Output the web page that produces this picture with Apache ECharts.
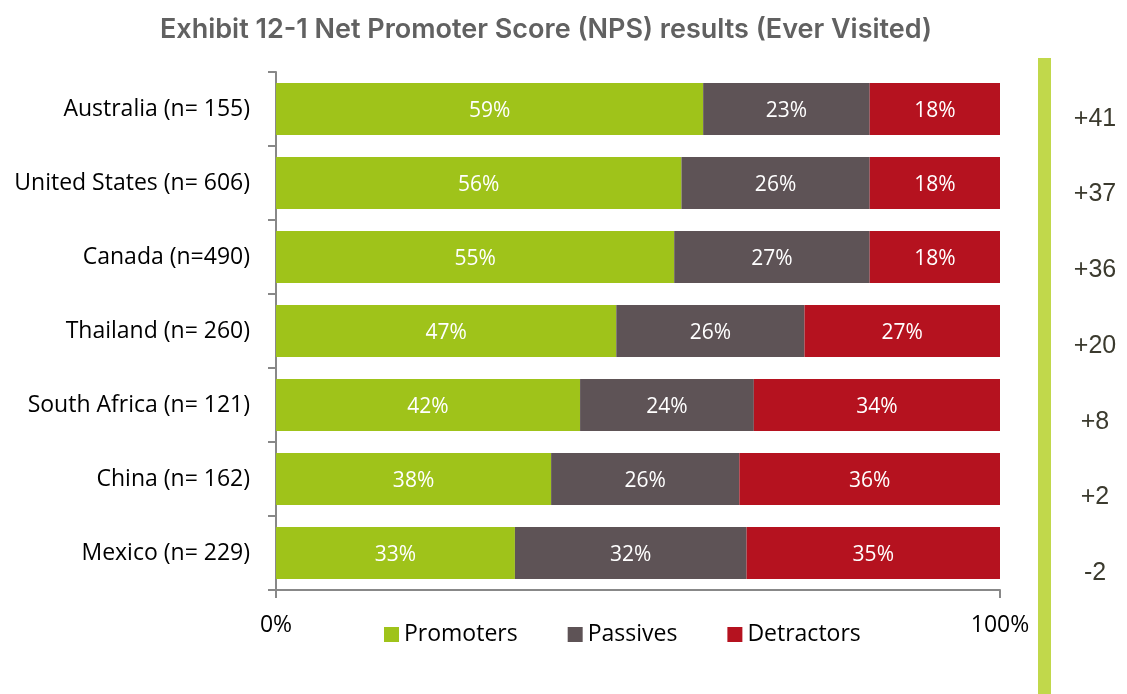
<!DOCTYPE html>
<html>
<head>
<meta charset="utf-8">
<script src="https://cdn.jsdelivr.net/npm/echarts@6/dist/echarts.min.js"></script>
<style>html,body{margin:0;padding:0;background:#fff;}#c{width:1127px;height:694px;}</style>
</head>
<body>
<div id="c"></div>
<script>
const categories = ['Australia (n= 155)','United States (n= 606)','Canada (n=490)','Thailand (n= 260)','South Africa (n= 121)','China (n= 162)','Mexico (n= 229)'];
const promoters = [59,56,55,47,42,38,33];
const passives = [23,26,27,26,24,26,32];
const detractors = [18,18,18,27,34,36,35];
const npsLabels = ['+41','+37','+36','+20','+8','+2','-2'];
const xTickLabels = {0:'0%',100:'100%'};

const chart = echarts.init(document.getElementById('c'));
const labelFont = 'Open Sans';
function seg(name, data, color){
  return {
    name, type:'bar', stack:'s', data, barWidth:52, xAxisIndex:0, yAxisIndex:0,
    itemStyle:{color},
    label:{show:true, position:'inside', offset:[0,2], color:'#fff', fontFamily:labelFont, fontSize:21, formatter:p=>p.value+'%'},
    emphasis:{disabled:true}
  };
}
chart.setOption({
  animation:false,
  title:{text:'Exhibit 12-1 Net Promoter Score (NPS) results (Ever Visited)', left:541, top:11, textAlign:'center',
    textStyle:{fontFamily:'Inter', fontWeight:600, fontSize:27, color:'#616161'}},
  legend:{top:618, left:379, itemWidth:15, itemHeight:15, itemGap:50, icon:'rect',
    textStyle:{fontFamily:labelFont, fontSize:23, color:'#000'}, data:['Promoters','Passives','Detractors']},
  grid:[{left:276, right:127, top:72, bottom:104},
        {left:1040, right:0, top:81, bottom:83}],
  xAxis:[{type:'value', gridIndex:0, min:0, max:100, interval:100,
    axisLine:{show:true, lineStyle:{color:'#888', width:2}},
    axisTick:{show:true, length:8, lineStyle:{color:'#888', width:2}},
    splitLine:{show:false},
    axisLabel:{margin:24, fontFamily:labelFont, fontSize:23, color:'#000', formatter:v=>xTickLabels[v]||''}},
   {type:'value', gridIndex:1, min:0, max:1, show:false}],
  yAxis:[{type:'category', gridIndex:0, data:categories, inverse:true,
    axisLine:{show:true, lineStyle:{color:'#888', width:2}},
    axisTick:{show:true, length:8, lineStyle:{color:'#888', width:2}},
    axisLabel:{margin:26, fontFamily:labelFont, fontSize:23, color:'#000'}},
   {type:'category', gridIndex:1, data:npsLabels, inverse:true, position:'left',
    axisLine:{show:false}, axisTick:{show:false}, splitLine:{show:false},
    axisLabel:{inside:true, margin:55, align:'center', fontFamily:'Liberation Sans', fontSize:25, color:'#3b3a2e'}}],
  graphic:[{type:'rect', shape:{x:1038, y:58, width:13, height:636}, style:{fill:'#c1d84b'}, z:-1}],
  series:[seg('Promoters',promoters,'#9fc31a'), seg('Passives',passives,'#5e5356'), seg('Detractors',detractors,'#b5121f')]
});
</script>
</body>
</html>
